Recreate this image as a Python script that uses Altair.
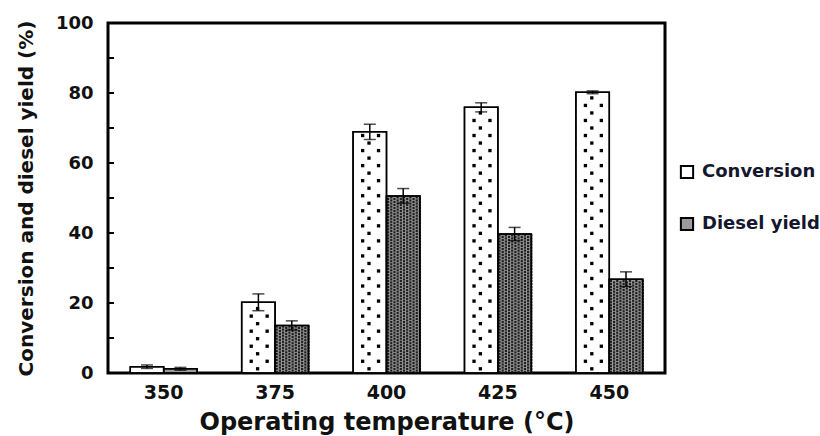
import altair as alt
import pandas as pd

# Measured conversion and diesel yield (%) at each operating temperature
temperatures = ["350", "375", "400", "425", "450"]
conversion = [1.8, 20.2, 68.9, 75.9, 80.2]
conversion_err = [0.5, 2.4, 2.2, 1.3, 0.4]
diesel_yield = [1.2, 13.6, 50.6, 39.7, 26.8]
diesel_yield_err = [0.4, 1.3, 2.1, 1.9, 2.1]

series_names = ["Conversion", "Diesel yield"]
minor_ticks = [10, 20, 30, 40, 50, 60, 70, 80, 90]

rows = []
for t, v, e in zip(temperatures, conversion, conversion_err):
    rows.append({"temp": t, "series": "Conversion", "value": v, "lo": v - e, "hi": v + e})
for t, v, e in zip(temperatures, diesel_yield, diesel_yield_err):
    rows.append({"temp": t, "series": "Diesel yield", "value": v, "lo": v - e, "hi": v + e})
df = pd.DataFrame(rows)
ticks_df = pd.DataFrame({"tick": minor_ticks})

FONT = "DejaVu Sans"
W, H = 557, 350
N_SLOTS = 22  # fine sub-columns across one temperature group, used for fill textures

x_enc = alt.X(
    "temp:N",
    sort=temperatures,
    scale=alt.Scale(paddingInner=0.4, paddingOuter=0.2),
    axis=alt.Axis(
        title="Operating temperature (°C)",
        labelAngle=0,
        ticks=False,
        domain=False,
        labelFont=FONT,
        labelFontWeight="bold",
        labelFontSize=19,
        labelColor="#111",
        labelPadding=10,
        titleFont=FONT,
        titleFontWeight="bold",
        titleFontSize=24,
        titleColor="#111",
        titlePadding=8,
    ),
)
x_plain = alt.X("temp:N", sort=temperatures)
xoff = alt.XOffset("series:N", scale=alt.Scale(domain=series_names))
xslot = alt.XOffset("slot:O", scale=alt.Scale(domain=list(range(N_SLOTS)), paddingInner=0, paddingOuter=0))
y_scale = alt.Scale(domain=[0, 100], nice=False)

bars = alt.Chart(df).mark_bar(stroke="black", strokeWidth=1.5).encode(
    x=x_enc,
    xOffset=xoff,
    y=alt.Y(
        "value:Q",
        scale=y_scale,
        axis=alt.Axis(
            values=[0, 20, 40, 60, 80, 100],
            title="Conversion and diesel yield  (%)",
            ticks=False,
            domain=False,
            grid=False,
            labelFont=FONT,
            labelFontWeight="bold",
            labelFontSize=18,
            labelColor="#111",
            labelPadding=15,
            titleFont=FONT,
            titleFontWeight="bold",
            titleFontSize=20,
            titleColor="#111",
            titlePadding=19,
        ),
    ),
    color=alt.Color(
        "series:N",
        scale=alt.Scale(domain=series_names, range=["#ffffff", "#9c9c9c"]),
        legend=alt.Legend(
            title=None,
            orient="none",
            legendX=570,
            legendY=140,
            symbolType="square",
            symbolSize=150,
            symbolStrokeColor="black",
            symbolStrokeWidth=2,
            labelFont=FONT,
            labelFontWeight="bold",
            labelFontSize=18,
            labelColor="#15172e",
            labelOffset=6,
            rowPadding=30,
        ),
    ),
)

# Dotted fill of the conversion bars: staggered rows of black squares
conv_dots = (
    alt.Chart(df[df["series"] == "Conversion"])
    .transform_filter("datum.value > 3")
    .transform_calculate(ys="sequence(1.2, datum.value - 0.6, 2.15)")
    .transform_flatten(["ys"])
    .transform_calculate(parity="round((datum.ys - 1.2) / 2.15) % 2")
    .transform_calculate(slot="datum.parity == 0 ? [5] : [3, 8]")
    .transform_flatten(["slot"])
    .mark_square(size=11, color="black", opacity=1)
    .encode(x=x_plain, xOffset=xslot, y=alt.Y("ys:Q", scale=y_scale))
)

# Checkered fill of the diesel-yield bars: dense staggered dark squares
diesel_dots = (
    alt.Chart(df[df["series"] == "Diesel yield"])
    .transform_filter("datum.value > 3")
    .transform_calculate(ys="sequence(0.25, datum.value - 0.2, 0.434)")
    .transform_flatten(["ys"])
    .transform_calculate(parity="round((datum.ys - 0.25) / 0.434) % 2")
    .transform_calculate(slot="sequence(11 + datum.parity, 22, 2)")
    .transform_flatten(["slot"])
    .mark_square(size=5, color="#1e1e1e", opacity=1)
    .encode(x=x_plain, xOffset=xslot, y=alt.Y("ys:Q", scale=y_scale))
)

err_rule = alt.Chart(df).mark_rule(color="black", strokeWidth=1.5).encode(
    x=x_plain, xOffset=xoff, y=alt.Y("lo:Q", scale=y_scale), y2="hi:Q",
)
cap_hi = alt.Chart(df).mark_tick(color="black", thickness=1.5, size=12).encode(
    x=x_plain, xOffset=xoff, y=alt.Y("hi:Q", scale=y_scale),
)
cap_lo = alt.Chart(df).mark_tick(color="black", thickness=1.5, size=12).encode(
    x=x_plain, xOffset=xoff, y=alt.Y("lo:Q", scale=y_scale),
)
outline = alt.Chart(df).mark_bar(fill=None, stroke="black", strokeWidth=1.5).encode(
    x=x_plain, xOffset=xoff, y=alt.Y("value:Q", scale=y_scale),
)

# Inward minor ticks along the left frame edge
inner_ticks = alt.Chart(ticks_df).mark_rule(color="black", strokeWidth=2).encode(
    x=alt.value(0), x2=alt.value(6), y=alt.Y("tick:Q", scale=y_scale),
)

chart = (
    alt.layer(bars, conv_dots, diesel_dots, outline, err_rule, cap_hi, cap_lo, inner_ticks)
    .resolve_scale(xOffset="independent")
    .properties(
        width=W,
        height=H,
        autosize=alt.AutoSizeParams(type="none"),
        padding={"left": 108, "top": 23, "right": 155, "bottom": 63},
        background="white",
    )
    .configure_view(stroke="black", strokeWidth=3)
)

chart.save("out.html", embed_options={"renderer": "svg", "actions": False})
